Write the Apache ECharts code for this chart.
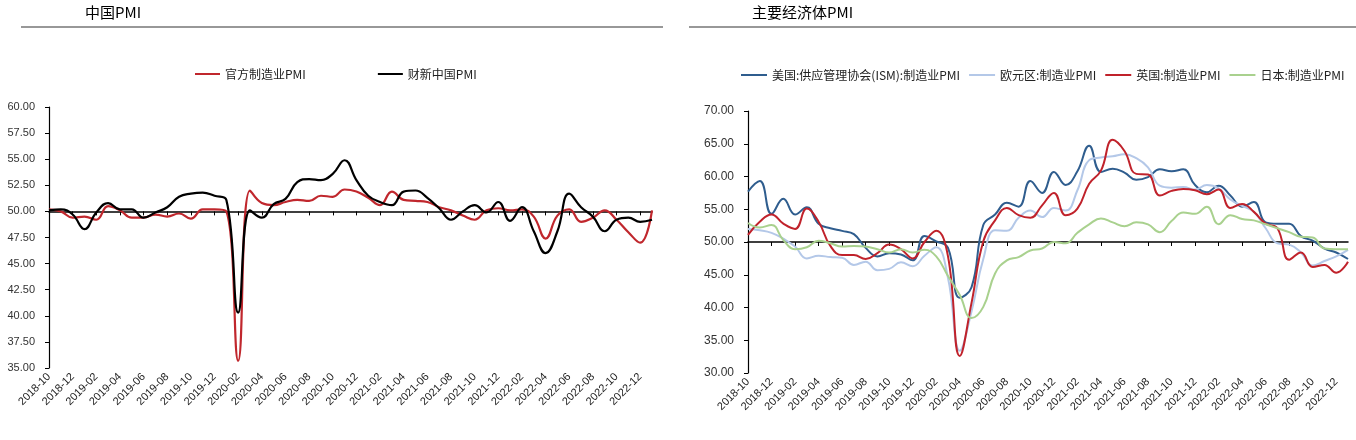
<!DOCTYPE html>
<html>
<head>
<meta charset="utf-8">
<script src="https://cdn.jsdelivr.net/npm/echarts@6/dist/echarts.min.js"></script>
<style>
html,body{margin:0;padding:0;background:#fff;}
#c{width:1356px;height:440px;}
</style>
</head>
<body>
<div id="c"></div>
<script>
// ---- categories: 2018-10 .. 2023-01 ----
const months = [
'2018-10','2018-11','2018-12',
'2019-01','2019-02','2019-03','2019-04','2019-05','2019-06','2019-07','2019-08','2019-09','2019-10','2019-11','2019-12',
'2020-01','2020-02','2020-03','2020-04','2020-05','2020-06','2020-07','2020-08','2020-09','2020-10','2020-11','2020-12',
'2021-01','2021-02','2021-03','2021-04','2021-05','2021-06','2021-07','2021-08','2021-09','2021-10','2021-11','2021-12',
'2022-01','2022-02','2022-03','2022-04','2022-05','2022-06','2022-07','2022-08','2022-09','2022-10','2022-11','2022-12',
'2023-01'];

// ---- 中国PMI ----
const officialPMI = [50.2,50.0,49.4,
49.5,49.2,50.5,50.1,49.4,49.4,49.7,49.5,49.8,49.3,50.2,50.2,
50.0,35.7,52.0,50.8,50.6,50.9,51.1,51.0,51.5,51.4,52.1,51.9,
51.3,50.6,51.9,51.1,51.0,50.9,50.4,50.1,49.6,49.2,50.1,50.3,
50.1,50.2,49.5,47.4,49.6,50.2,49.0,49.4,50.1,49.2,48.0,47.0,
50.1];
const caixinPMI = [50.1,50.2,49.7,
48.3,49.9,50.8,50.2,50.2,49.4,49.9,50.4,51.4,51.7,51.8,51.5,
51.1,40.3,50.1,49.4,50.7,51.2,52.8,53.1,53.0,53.6,54.9,53.0,
51.5,50.9,50.6,51.9,52.0,51.3,50.3,49.2,50.0,50.6,49.9,50.9,
49.1,50.4,48.1,46.0,48.1,51.7,50.4,49.5,48.1,49.2,49.4,49.0,
49.2];

// ---- 主要经济体PMI ----
const usISM = [57.7,59.3,54.3,
56.6,54.2,55.3,52.8,52.1,51.7,51.2,49.1,47.8,48.3,48.1,47.2,
50.9,50.1,49.1,41.5,43.1,52.6,54.2,56.0,55.4,59.3,57.5,60.7,
58.7,60.8,64.7,60.7,61.2,60.6,59.5,59.9,61.1,60.8,61.1,58.7,
57.6,58.6,57.1,55.4,56.1,53.0,52.8,52.8,50.9,50.2,49.0,48.4,
47.4];
const euroPMI = [52.0,51.8,51.4,
50.5,49.3,47.5,47.9,47.7,47.6,46.5,47.0,45.7,45.9,46.9,46.3,
47.9,49.2,44.5,33.4,39.4,47.4,51.8,51.7,53.7,54.8,53.8,55.2,
54.8,57.9,62.5,62.9,63.1,63.4,62.8,61.4,58.6,58.3,58.4,58.0,
58.7,58.2,56.5,55.5,54.6,52.1,49.8,49.6,48.4,46.4,47.1,47.8,
48.8];
const ukPMI = [51.1,53.1,54.2,
52.8,52.0,55.1,53.1,49.4,48.0,48.0,47.4,48.3,49.6,48.9,47.5,
50.0,51.7,47.8,32.6,40.7,50.1,53.3,55.2,54.1,53.7,55.6,57.5,
54.1,55.1,58.9,60.9,65.6,63.9,60.4,60.3,57.1,57.8,58.1,57.9,
57.3,58.0,55.2,55.8,54.6,52.8,52.1,47.3,48.4,46.2,46.5,45.3,
47.0];
const japanPMI = [52.9,52.2,52.6,
50.3,48.9,49.2,50.2,49.8,49.3,49.4,49.3,48.9,48.4,48.9,48.4,
48.8,47.8,44.8,41.9,38.4,40.1,45.2,47.2,47.7,48.7,49.0,50.0,
49.8,51.4,52.7,53.6,53.0,52.4,53.0,52.7,51.5,53.2,54.5,54.3,
55.4,52.7,54.1,53.5,53.3,52.7,52.1,51.5,50.8,50.7,49.0,48.9,
48.9];

const leftNames = ['官方制造业PMI','财新中国PMI'];
const rightNames = ['美国:供应管理协会(ISM):制造业PMI','欧元区:制造业PMI','英国:制造业PMI','日本:制造业PMI'];

// ---- layout ----
const L = {left:49, top:107, width:603, height:261, min:35, max:60, step:2.5};
const R = {left:748, top:111, width:600, height:262, min:30, max:70, step:5};
const base = 50;
const FONT = 'Liberation Sans';
const CJK = '"Noto Sans CJK SC"';

function offsetFor(g){ return -(g.max-base)/(g.max-g.min)*g.height; }

function xAxes(gi, g, fontSize){
  return [
    { // labels at bottom
      type:'category', gridIndex:gi, data:months, boundaryGap:false, position:'bottom',
      axisLine:{show:false}, axisTick:{show:false},
      axisLabel:{interval:1, rotate:45, fontSize:fontSize, fontFamily:FONT, color:'#222', margin:7}
    },
    { // line at 50 with ticks
      type:'category', gridIndex:gi, data:months, boundaryGap:false, position:'top',
      offset:offsetFor(g),
      axisLine:{show:true, lineStyle:{color:'#000', width:1.5}},
      axisTick:{show:true, inside:true, interval:1, length:4, lineStyle:{color:'#000', width:1}},
      axisLabel:{show:false}
    }
  ];
}
function yAxis(gi, g, fontSize){
  return {
    type:'value', gridIndex:gi, min:g.min, max:g.max, interval:g.step,
    axisLine:{show:true, lineStyle:{color:'#000', width:1.2}},
    axisTick:{show:true, length:4, lineStyle:{color:'#000'}},
    splitLine:{show:false},
    axisLabel:{formatter:v=>v.toFixed(2), fontSize:fontSize, fontFamily:FONT, color:'#333', margin:14}
  };
}
function line(name, data, color, xi, yi, w){
  return {name, type:'line', data, xAxisIndex:xi, yAxisIndex:yi, smooth:0.45,
    symbol:'none', lineStyle:{color, width:w}, itemStyle:{color}, z:3};
}

const chart = echarts.init(document.getElementById('c'));
chart.setOption({
  animation:false,
  backgroundColor:'#fff',
  title:[
    {text:'中国PMI', left:80, top:0, textStyle:{fontFamily:CJK, fontSize:15, fontWeight:'normal', color:'#000'}},
    {text:'主要经济体PMI', left:747, top:0, textStyle:{fontFamily:CJK, fontSize:15, fontWeight:'normal', color:'#000'}}
  ],
  legend:[
    {data:leftNames, left:195, top:68, padding:0, icon:'rect', itemWidth:25, itemHeight:2, itemGap:72,
     width:400, textStyle:{fontFamily:CJK, fontSize:12, color:'#222'}},
    {data:rightNames, left:741, top:69, padding:0, icon:'rect', itemWidth:26, itemHeight:2, itemGap:9,
     width:615, textStyle:{fontFamily:CJK, fontSize:12, color:'#222'}}
  ],
  graphic:[
    {type:'line', shape:{x1:21, y1:27, x2:663, y2:27}, style:{stroke:'#333', lineWidth:1.2}},
    {type:'line', shape:{x1:689, y1:27, x2:1356, y2:27}, style:{stroke:'#333', lineWidth:1.2}}
  ],
  grid:[
    {left:L.left, top:L.top, width:L.width, height:L.height},
    {left:R.left, top:R.top, width:R.width, height:R.height}
  ],
  xAxis:[...xAxes(0, L, 11), ...xAxes(1, R, 11)],
  yAxis:[yAxis(0, L, 11), yAxis(1, R, 12)],
  series:[
    line(leftNames[0], officialPMI, '#C0272D', 0, 0, 2.2),
    line(leftNames[1], caixinPMI, '#000000', 0, 0, 2.2),
    line(rightNames[0], usISM, '#2F5D8E', 2, 1, 2),
    line(rightNames[1], euroPMI, '#B4C8E8', 2, 1, 2),
    line(rightNames[2], ukPMI, '#C0222B', 2, 1, 2),
    line(rightNames[3], japanPMI, '#A9D18E', 2, 1, 2)
  ]
});
</script>
</body>
</html>
